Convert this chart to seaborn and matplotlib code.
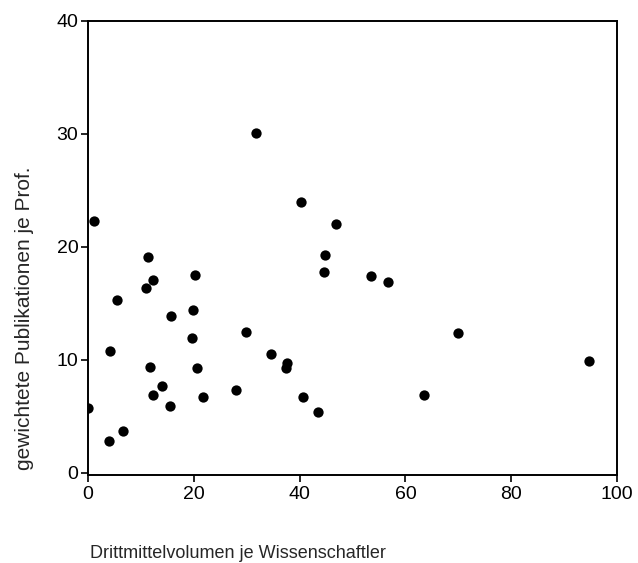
import pandas as pd
import matplotlib
matplotlib.use('Agg')
import matplotlib.pyplot as plt
import seaborn as sns

# Values
drittmittel = [0.0, 1.1, 4.0, 4.1, 5.5, 6.6, 11.0, 11.3, 12.3, 11.7, 12.3, 14.0,
               15.7, 15.5, 20.2, 19.8, 19.6, 20.6, 21.8, 28.0, 29.9, 31.8, 34.6,
               37.6, 37.5, 40.2, 40.6, 43.5, 44.6, 44.8, 46.8, 53.5, 56.7, 63.5,
               69.9, 94.7]
publikationen = [5.7, 22.3, 2.8, 10.8, 15.3, 3.7, 16.4, 19.1, 17.1, 9.4, 6.9, 7.7,
                 13.9, 5.9, 17.5, 14.4, 11.9, 9.3, 6.7, 7.3, 12.5, 30.1, 10.5,
                 9.7, 9.3, 24.0, 6.7, 5.4, 17.8, 19.3, 22.0, 17.4, 16.9, 6.9,
                 12.4, 9.9]
x_ticks = [0, 20, 40, 60, 80, 100]
y_ticks = [0, 10, 20, 30, 40]

df = pd.DataFrame({'Drittmittel': drittmittel, 'Publikationen': publikationen})

sns.set_style('ticks')
plt.rcParams['font.family'] = ['Liberation Sans', 'DejaVu Sans']

fig = plt.figure(figsize=(6.38, 5.63), dpi=100)
ax = fig.add_axes([0.138, 0.156, 0.829, 0.807])

sns.scatterplot(data=df, x='Drittmittel', y='Publikationen', ax=ax,
                color='black', s=55, edgecolor='black', linewidth=0)

ax.set_xlim(0, 100)
ax.set_ylim(-0.2, 40)
ax.set_xticks(x_ticks)
ax.set_yticks(y_ticks)
ax.tick_params(axis='both', labelsize=14, length=5, width=1.2,
               direction='out', colors='black')
ax.tick_params(axis='y', pad=2)
ax.tick_params(axis='x', pad=3)

for sp in ax.spines.values():
    sp.set_visible(True)
    sp.set_linewidth(1.4)
    sp.set_color('black')

ax.set_xlabel('Drittmittelvolumen je Wissenschaftler', fontsize=13,
              ha='left', va='center')
ax.xaxis.set_label_coords(0.003, -0.172)
ax.set_ylabel('gewichtete Publikationen je Prof.', fontsize=15,
              ha='center', va='center')
ax.yaxis.set_label_coords(-0.121, 0.346)

fig.savefig('out.png', dpi=100)
